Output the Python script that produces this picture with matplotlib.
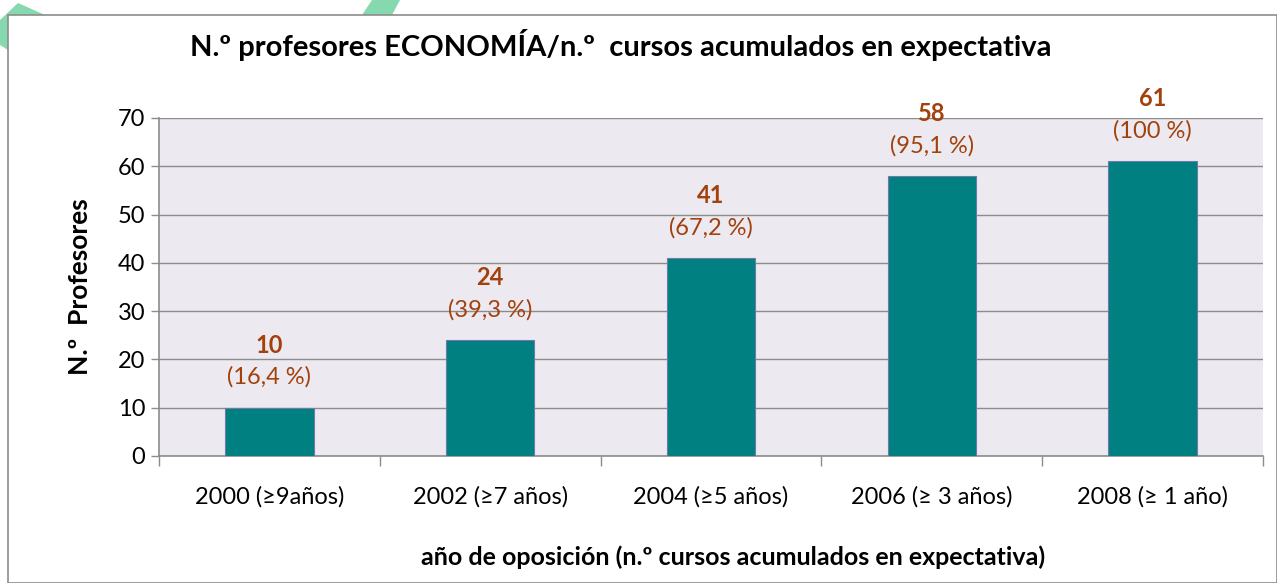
import matplotlib
matplotlib.use("Agg")
import matplotlib.pyplot as plt
from matplotlib.patches import Polygon, Rectangle
import numpy as np

categories = ["2000 (≥9años)", "2002 (≥7 años)", "2004 (≥5 años)", "2006 (≥ 3 años)", "2008 (≥ 1 año)"]
values = [10, 24, 41, 58, 61]
pct_labels = ["(16,4 %)", "(39,3 %)", "(67,2 %)", "(95,1 %)", "(100 %)"]
yticks = [0, 10, 20, 30, 40, 50, 60, 70]

plt.rcParams['font.family'] = ['Lato', 'DejaVu Sans']

fig = plt.figure(figsize=(12.77, 5.83), dpi=100)
W, H = 1277, 583

def fx(px): return px / W
def fy(py): return 1 - py / H

# decorative green shapes
green = '#86D8AE'
fig.patches.append(Polygon([(fx(0), fy(20)), (fx(18), fy(3)), (fx(45), fy(15)), (fx(8), fy(15)), (fx(8), fy(50)), (fx(0), fy(45))],
                           closed=True, transform=fig.transFigure, facecolor=green, edgecolor='none', zorder=0))
fig.patches.append(Polygon([(fx(362), fy(15)), (fx(372), fy(0)), (fx(400), fy(0)), (fx(392), fy(15))],
                           closed=True, transform=fig.transFigure, facecolor=green, edgecolor='none', zorder=0))
# chart border
fig.patches.append(Rectangle((fx(8), fy(583)), fx(1277) - fx(8), fy(15) - fy(583), transform=fig.transFigure,
                             facecolor='white', edgecolor='#8C8C8C', linewidth=1.2, zorder=0.5))

ax = fig.add_axes([fx(159), fy(456), fx(1263) - fx(159), fy(118) - fy(456)])
ax.set_zorder(3)
ax.set_facecolor('#ECEAF0')
x = np.arange(len(categories))
ax.bar(x, values, width=0.4, color='#008080', edgecolor='#6E7AA8', linewidth=0.8, zorder=3)

ax.set_xlim(-0.5, len(categories) - 0.5)
ax.set_ylim(0, 70)
ax.set_yticks(yticks)
ax.set_yticklabels([str(v) for v in yticks], fontsize=17)
ax.yaxis.grid(True, color='#8C8C8C', linewidth=1.0, zorder=1)
ax.set_axisbelow(True)

ax.set_xticks(x)
ax.set_xticklabels(categories, fontsize=17)
ax.tick_params(axis='x', length=0, pad=22)
ax.set_xticks(np.arange(-0.5, len(categories) + 0.5, 1), minor=True)
ax.tick_params(axis='x', which='minor', length=7, color='#8C8C8C', width=1)
ax.tick_params(axis='y', length=6, color='#8C8C8C', width=1, pad=4)

for s in ['top', 'right']:
    ax.spines[s].set_visible(False)
for s in ['left', 'bottom']:
    ax.spines[s].set_color('#8C8C8C')
    ax.spines[s].set_linewidth(1.2)

brown = '#A2410C'
for xi, v, p in zip(x, values, pct_labels):
    ax.annotate(p, (xi, v), xytext=(0, 22), textcoords='offset points', ha='center', va='center',
                fontsize=17, color=brown, annotation_clip=False)
    ax.annotate(str(v), (xi, v), xytext=(0, 45), textcoords='offset points', ha='center', va='center',
                fontsize=17, fontweight='bold', color=brown, annotation_clip=False)

fig.text(fx(621), fy(45), "N.º profesores ECONOMÍA/n.º  cursos acumulados en expectativa",
         ha='center', va='center', fontsize=21, fontweight='bold', color='black')
fig.text(fx(80), fy(287), "N.º  Profesores", rotation=90, ha='center', va='center',
         fontsize=19, fontweight='bold')
fig.text(fx(733), fy(557), "año de oposición (n.º cursos acumulados en expectativa)",
         ha='center', va='center', fontsize=18, fontweight='bold')

fig.savefig("out.png", dpi=100)
